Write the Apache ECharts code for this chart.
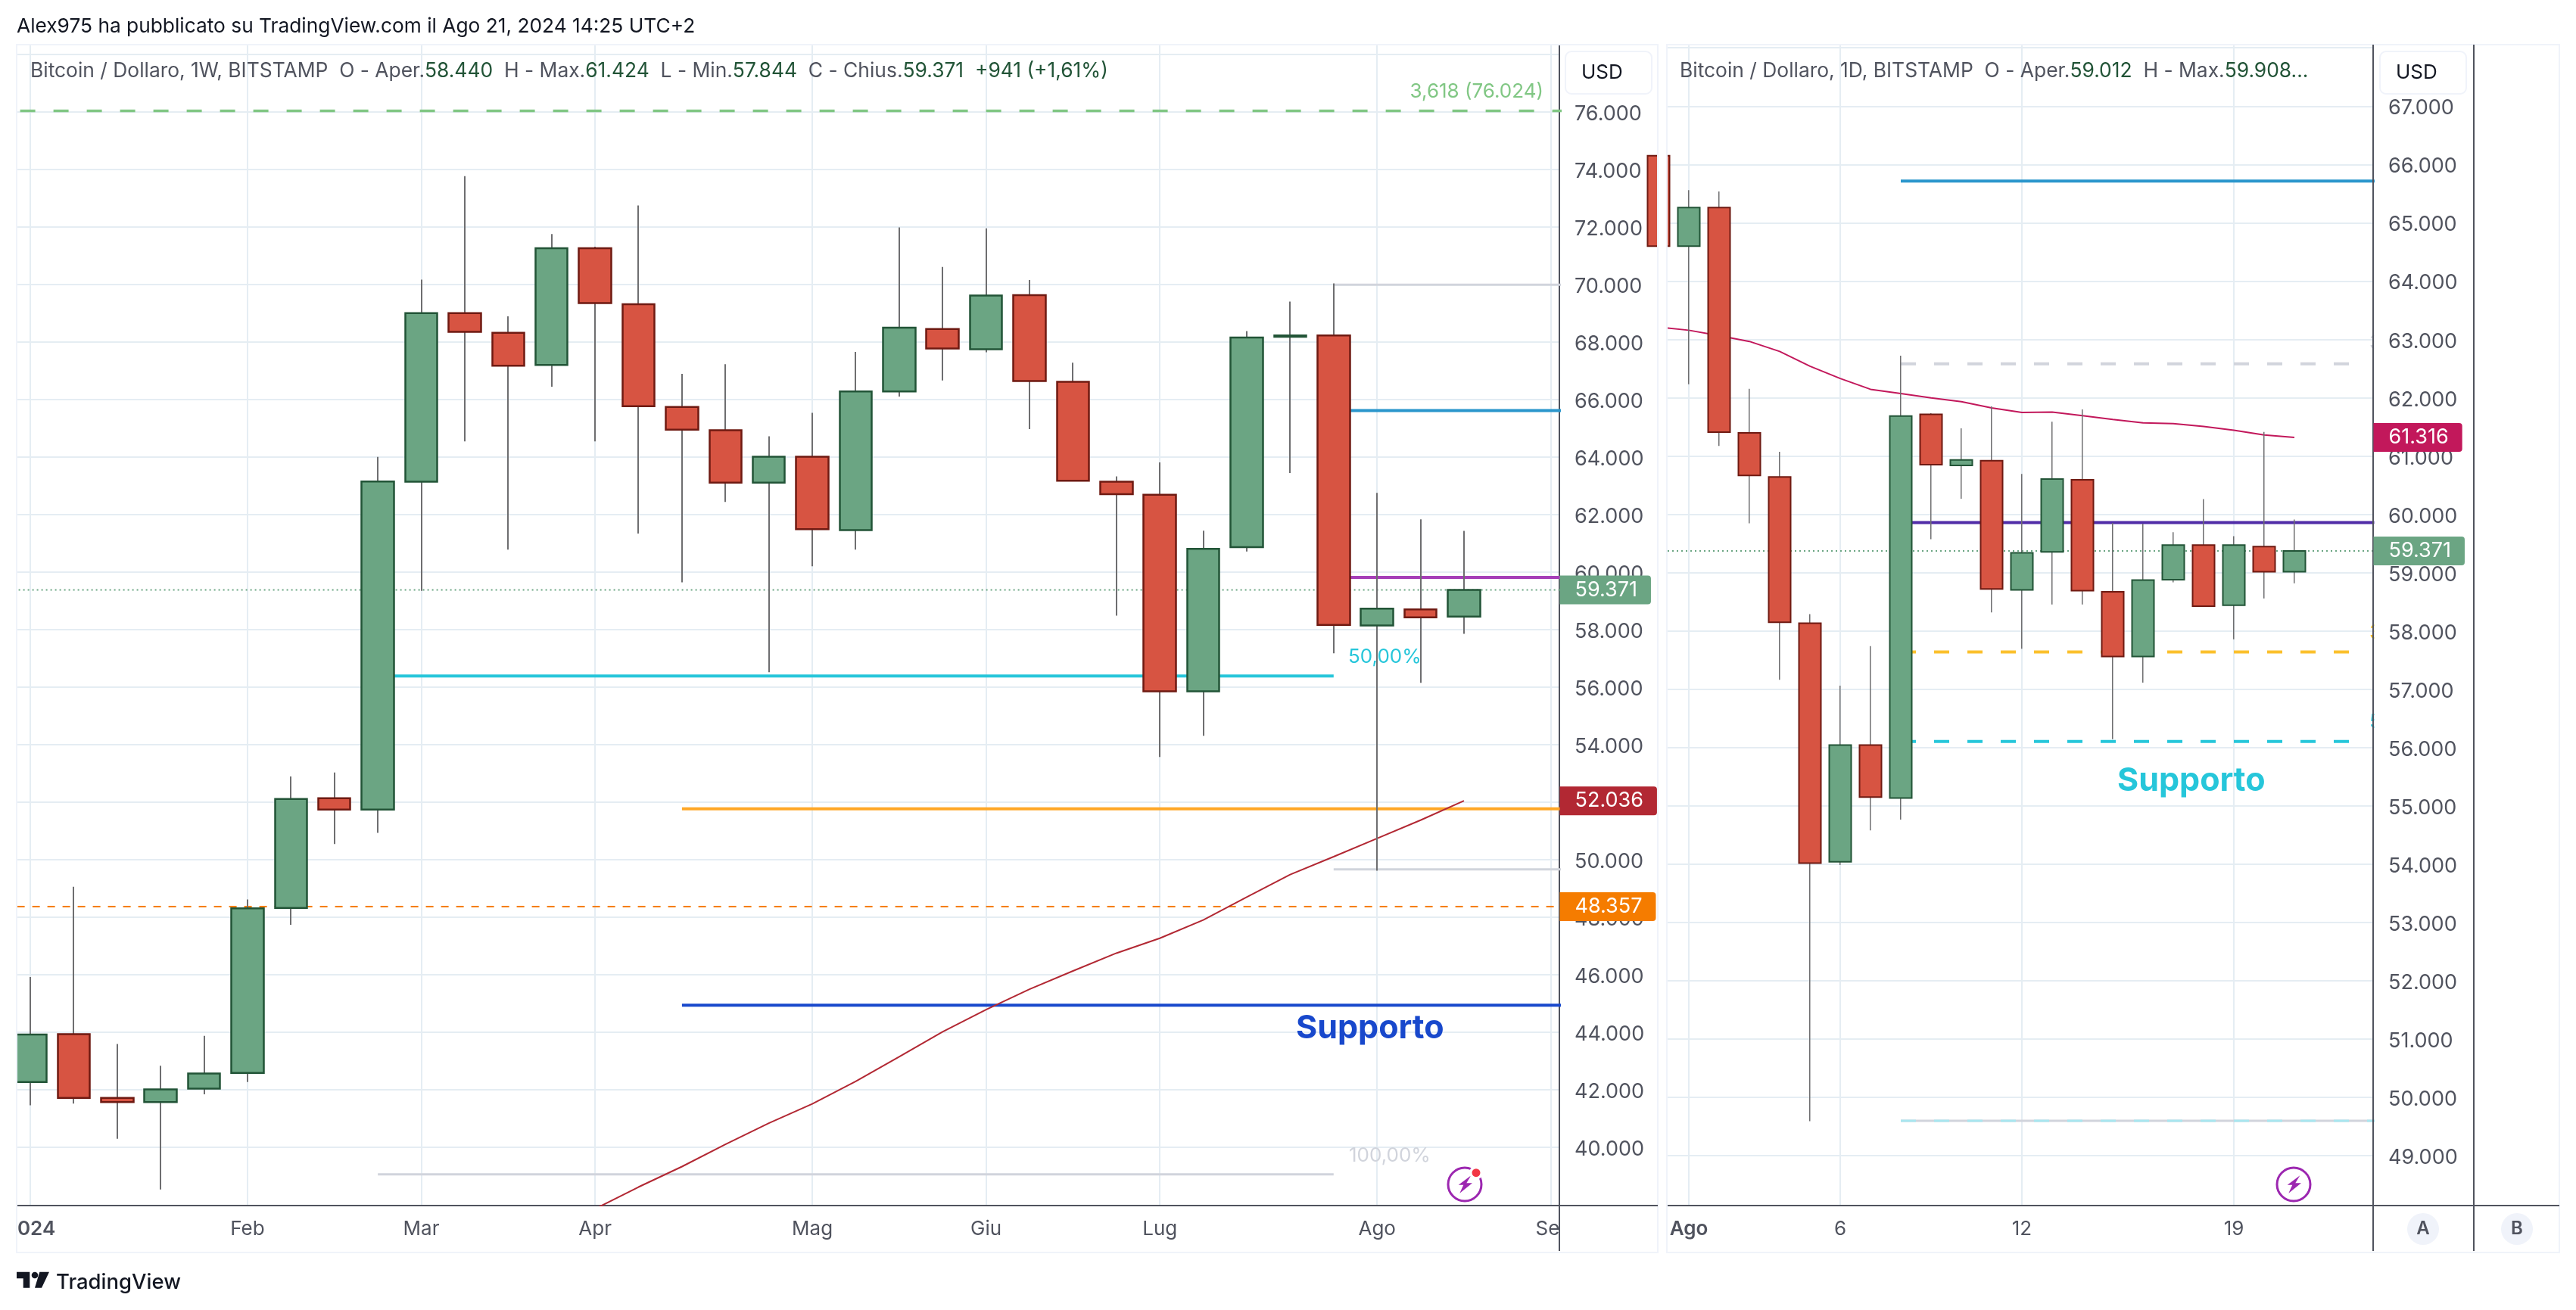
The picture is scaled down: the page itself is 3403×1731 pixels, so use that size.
<!DOCTYPE html>
<html>
<head>
<meta charset="utf-8">
<title>Bitcoin / Dollaro</title>
<style>
  html, body { margin: 0; padding: 0; background: #fff; }
  #chart { width: 3403px; height: 1731px; }
</style>
</head>
<body>
<div id="chart"></div>
<script src="https://cdn.jsdelivr.net/npm/echarts@6/dist/echarts.min.js"></script>
<script>
// weekly pane, one entry per candle
const weekOpen = [42255, 43924, 41706, 41559, 42025, 42576, 48311, 52123, 51730, 63130, 68993, 68308, 67192, 71253, 69302, 65728, 64923, 63100, 64000, 61448, 66271, 68443, 67735, 69620, 66603, 63134, 62681, 55842, 60857, 68170, 68217, 58132, 58693, 58440];
const weekClose = [43911, 41706, 41559, 42000, 42551, 48299, 52098, 51730, 63140, 68993, 68345, 67163, 71253, 69340, 65756, 64943, 63100, 64000, 61478, 66272, 68489, 67765, 69605, 66633, 63164, 62697, 55842, 60796, 68142, 68220, 58149, 58719, 58412, 59371];
const weekLow = [41445, 41510, 40284, 38520, 41828, 42257, 47723, 50530, 50922, 59333, 64530, 60773, 66433, 64530, 61327, 59635, 62425, 56504, 60190, 60773, 66090, 66649, 67629, 64959, 63164, 58474, 53561, 54298, 60706, 63436, 57167, 49604, 56140, 57844];
const weekHigh = [45911, 49047, 43581, 42821, 43863, 48605, 52882, 53017, 63996, 70155, 73758, 68880, 71741, 71300, 72735, 66882, 67220, 64710, 65527, 67644, 71973, 70600, 71943, 70148, 67267, 63315, 63804, 61430, 68368, 69394, 70027, 62742, 61822, 61424];
// moving average starts at candle 13
const weekMaStart = 13;
const weekMa = [37846, 38605, 39316, 40088, 40824, 41498, 42278, 43135, 44006, 44774, 45483, 46118, 46739, 47256, 47891, 48688, 49471, 50092, 50727, 51362, 52036];
const weekDateTicks = [0, 5, 9, 13, 18, 22, 26, 31, 35];
const weekDateLabels = ['2024', 'Feb', 'Mar', 'Apr', 'Mag', 'Giu', 'Lug', 'Ago', 'Set'];
const weekPriceTicks = [76000, 74000, 72000, 70000, 68000, 66000, 64000, 62000, 60000, 58000, 56000, 54000, 52000, 50000, 48000, 46000, 44000, 42000, 40000];

// daily pane, index 0 is 31 Jul, index 1 is 1 Ago
const dayOpen = [66150, 64600, 65260, 61394, 60638, 58131, 54037, 56042, 55132, 61712, 60837, 60917, 58703, 59353, 60592, 58670, 57560, 58876, 59472, 58440, 59446, 59012];
const dayClose = [64600, 65260, 61407, 60665, 58146, 54014, 56042, 55147, 61685, 60850, 60930, 58717, 59339, 60605, 58690, 57560, 58869, 59472, 58424, 59472, 59012, 59371];
const dayLow = [64600, 62230, 61170, 59843, 57160, 49590, 53983, 54577, 54762, 59572, 60267, 58316, 57692, 58451, 58451, 56142, 57113, 58830, 58424, 57853, 58557, 58816];
const dayHigh = [66150, 65560, 65535, 62150, 61070, 58285, 57060, 57738, 62719, 61732, 61473, 61850, 60691, 61586, 61798, 59850, 59836, 59691, 60260, 59624, 61413, 59908];
const dayMa = [63209, 63156, 63064, 62964, 62792, 62540, 62328, 62143, 62070, 61997, 61930, 61824, 61745, 61751, 61692, 61626, 61566, 61553, 61506, 61440, 61360, 61316];
const dayDateTicks = [1, 6, 12, 19];
const dayDateLabels = ['Ago', '6', '12', '19'];
const dayPriceTicks = [67000, 66000, 65000, 64000, 63000, 62000, 61000, 60000, 59000, 58000, 57000, 56000, 55000, 54000, 53000, 52000, 51000, 50000, 49000];

// price of each drawn level, with the candle it starts and ends at
const weekLevelPrices = [76024, 69980, 65608, 59800, 56373, 51755, 48357, 49650, 44929, 39048];
const weekLevelStart = [-1, 30, 30, 30, 8, 15, -1, 30, 15, 8];
const weekLevelEnd = [36, 36, 36, 36, 30, 36, 36, 36, 36, 30];
const dayLevelPrices = [65714, 62580, 59856, 57638, 56103, 49594, 49594];
const dayLevelStart = [8, 8, 8, 8, 8, 8, 8];
const dayLevelEnd = [24, 22.8, 24, 22.8, 22.8, 24, 24];
const lastPrice = 59371;

const weekX = { min: -0.3136, max: 35.196 };
const dayX = { min: 0.275, max: 23.6 };
const weekY = { min: 37961, max: 78329 };
const dayY = { min: 48141, max: 68055 };

const FONT = 'Inter, "Noto Sans", sans-serif';
const GRID = '#e5edf3';
const AXIS = '#50535e';
const TEXT = '#50535e';
const INK = '#131722';
const FRAME = '#f0f3fa';

const GREEN = '#6ba583';
const GREEN_EDGE = '#225437';
const RED = '#d75442';
const RED_EDGE = '#6f1a12';
const WICK = '#6e6e70';
const GRAY = '#d1d4dc';
const CYAN = '#26c6da';

const weekLevelStyles = [
  { color: '#81c784', width: 3.5, type: [20, 24] },
  { color: GRAY, width: 3 },
  { color: '#2a96cc', width: 4 },
  { color: '#a63fb8', width: 4 },
  { color: CYAN, width: 4 },
  { color: '#ffa726', width: 4 },
  { color: '#f57c00', width: 2, type: [10, 10] },
  { color: GRAY, width: 3 },
  { color: '#1848cc', width: 4 },
  { color: GRAY, width: 3 },
];
const dayLevelStyles = [
  { color: '#2a96cc', width: 4 },
  { color: GRAY, width: 4, type: [20, 24] },
  { color: '#512da8', width: 4 },
  { color: '#fbc02d', width: 4, type: [20, 24] },
  { color: CYAN, width: 4, type: [20, 24] },
  { color: GRAY, width: 3 },
  { color: '#a8e6ef', width: 3, type: [20, 24] },
];

function priceText(v) {
  return String(v).replace(/(\d{3})$/, '.$1');
}

function xAxis(index, range, ticks, labels, boldFirst) {
  return {
    type: 'value',
    gridIndex: index,
    min: range.min,
    max: range.max,
    axisLine: { onZero: false, lineStyle: { color: AXIS, width: 2 } },
    axisTick: { show: false, customValues: ticks },
    splitLine: { show: true, lineStyle: { color: GRID, width: 2 } },
    axisLabel: {
      customValues: ticks,
      hideOverlap: false,
      margin: 18,
      fontFamily: FONT,
      fontSize: 26,
      color: TEXT,
      formatter: (v) => {
        const i = ticks.indexOf(v);
        return i === 0 && boldFirst ? '{b|' + labels[i] + '}' : labels[i];
      },
      rich: { b: { fontFamily: FONT, fontSize: 26, fontWeight: 600, color: TEXT } },
    },
  };
}

function yAxis(index, range, ticks, gridExtra) {
  return {
    type: 'value',
    gridIndex: index,
    position: 'right',
    min: range.min,
    max: range.max,
    axisLine: { show: true, onZero: false, lineStyle: { color: AXIS, width: 2 } },
    axisTick: { show: false, customValues: [gridExtra].concat(ticks) },
    splitLine: { show: true, lineStyle: { color: GRID, width: 2 } },
    axisLabel: {
      customValues: ticks,
      hideOverlap: false,
      margin: 20,
      fontFamily: FONT,
      fontSize: 27,
      color: TEXT,
      formatter: (v) => '{p|' + priceText(v) + '}',
      // plain label padding is ignored here, the rich token nudges the text down
      rich: { p: { fontFamily: FONT, fontSize: 27, color: TEXT, padding: [6, 0, 0, 0] } },
    },
  };
}

// wicks go in a custom series, TradingView colours them apart from the body
// and candlestick strokes get blurred at widths above 1
function candles(index, open, close, low, high, bodyWidth, edge, wickWidth) {
  const wicks = low.map((l, i) => [i, l, high[i]]);
  const bodies = open.map((o, i) => [i, o, close[i], Math.min(o, close[i]), Math.max(o, close[i])]);
  return [
    {
      type: 'custom',
      xAxisIndex: index,
      yAxisIndex: index,
      clip: true,
      z: 3,
      silent: true,
      encode: { x: 0, y: [1, 2] },
      data: wicks,
      renderItem: (params, api) => {
        const bottom = api.coord([api.value(0), api.value(1)]);
        const top = api.coord([api.value(0), api.value(2)]);
        return {
          type: 'rect',
          shape: { x: Math.round(bottom[0] - wickWidth / 2), y: top[1], width: wickWidth, height: bottom[1] - top[1] },
          style: { fill: WICK },
        };
      },
    },
    {
      type: 'candlestick',
      xAxisIndex: index,
      yAxisIndex: index,
      barWidth: bodyWidth,
      clip: true,
      z: 4,
      silent: true,
      data: bodies,
      itemStyle: { color: GREEN, color0: RED, borderColor: GREEN_EDGE, borderColor0: RED_EDGE, borderWidth: edge },
    },
  ];
}

function flatLine(index, from, to, price, style, tag) {
  const s = {
    type: 'line',
    xAxisIndex: index,
    yAxisIndex: index,
    symbol: 'none',
    z: 2,
    silent: true,
    data: [[from, price], [to, price]],
    lineStyle: style,
  };
  return tag ? withTag(s, tag) : s;
}

// coloured price tag sitting on the price axis
function withTag(series, tag) {
  series.markPoint = {
    silent: true,
    animation: false,
    symbol: 'rect',
    symbolSize: 1,
    itemStyle: { color: 'transparent' },
    z: 20,
    data: [{
      coord: [tag.x, tag.price],
      label: {
        show: true,
        position: 'right',
        distance: 0,
        formatter: priceText(tag.price),
        fontFamily: FONT,
        fontSize: 27,
        lineHeight: 38,
        color: '#fff',
        backgroundColor: tag.color,
        borderRadius: [0, 4, 4, 0],
        padding: [0, 18, 0, 20],
      },
    }],
  };
  return series;
}

function maLine(index, start, values, color, tag) {
  return withTag({
    type: 'line',
    xAxisIndex: index,
    yAxisIndex: index,
    symbol: 'none',
    z: 2,
    silent: true,
    data: values.map((v, i) => [start + i, v]),
    lineStyle: { color: color, width: 2 },
  }, tag);
}

const series = [].concat(
  weekLevelPrices.map((p, i) => flatLine(0, weekLevelStart[i], weekLevelEnd[i], p, weekLevelStyles[i],
    p === 48357 ? { x: weekX.max, price: p, color: '#f57c00' } : null)),
  dayLevelPrices.map((p, i) => flatLine(1, dayLevelStart[i], dayLevelEnd[i], p, dayLevelStyles[i])),
  flatLine(0, -1, 36, lastPrice, { color: GREEN, width: 2, type: [2, 4] }, { x: weekX.max, price: lastPrice, color: GREEN }),
  flatLine(1, 0, 24, lastPrice, { color: GREEN, width: 2, type: [2, 4] }, { x: dayX.max, price: lastPrice, color: GREEN }),
  maLine(0, weekMaStart, weekMa, '#b22833', { x: weekX.max, price: weekMa[weekMa.length - 1], color: '#b22833' }),
  maLine(1, 0, dayMa, '#c2185b', { x: dayX.max, price: dayMa[dayMa.length - 1], color: '#c2185b' }),
  candles(0, weekOpen, weekClose, weekLow, weekHigh, 43, 2.5, 2),
  candles(1, dayOpen, dayClose, dayLow, dayHigh, 30, 2, 1.5)
);

function text(x, y, str, size, color, extra) {
  return {
    type: 'text',
    x: x,
    y: y,
    z: 10,
    style: Object.assign({
      text: str,
      fontFamily: FONT,
      fontSize: size,
      fill: color,
      textVerticalAlign: 'middle',
    }, extra || {}),
  };
}

function paneTitle(x, y, str) {
  return text(x, y, str, 26.4, TEXT, {
    rich: {
      v: { fontFamily: FONT, fontSize: 26.4, fill: GREEN_EDGE, color: GREEN_EDGE },
    },
  });
}

function line(x1, y1, x2, y2, color, width) {
  return { type: 'line', z: 10, shape: { x1, y1, x2, y2 }, style: { stroke: color, lineWidth: width } };
}

function whiteBox(x, y, width, height) {
  return { type: 'rect', z: 10, shape: { x, y, width, height }, style: { fill: '#fff' } };
}

function usdBox(x, y) {
  return [
    { type: 'rect', z: 10, shape: { x, y, width: 114, height: 56, r: 8 }, style: { fill: '#fff', stroke: FRAME, lineWidth: 2 } },
    text(x + 21, y + 28, 'USD', 26, INK),
  ];
}

function boltIcon(cx, cy, withDot) {
  const els = [
    { type: 'circle', z: 10, shape: { cx, cy, r: 22 }, style: { fill: '#fff', stroke: '#9c27b0', lineWidth: 3 } },
    {
      type: 'polygon',
      z: 10,
      shape: { points: [[cx + 8.3, cy - 11.7], [cx - 8.3, cy + 0.7], [cx - 1.7, cy + 0.7], [cx - 6.7, cy + 11.7], [cx + 10, cy - 1.7], [cx + 2.3, cy - 1.7]] },
      style: { fill: '#9c27b0' },
    },
  ];
  if (withDot) {
    els.push({ type: 'circle', z: 10, shape: { cx: cx + 15, cy: cy - 15.3, r: 9 }, style: { fill: '#fff' } });
    els.push({ type: 'circle', z: 10, shape: { cx: cx + 15, cy: cy - 15.3, r: 5.5 }, style: { fill: '#f23645' } });
  }
  return els;
}

function paneBadge(cx, cy, str) {
  return [
    { type: 'circle', z: 10, shape: { cx, cy, r: 21 }, style: { fill: FRAME } },
    text(cx, cy, str, 24, TEXT, { textAlign: 'center', fontWeight: 600 }),
  ];
}

const graphics = [].concat(
  // labels cut off by the price axis
  text(3130, 453, '3', 26, GRAY),
  text(3130, 836, '3', 26, '#fbc02d'),
  text(3130, 954, '5', 26, CYAN),
  whiteBox(3136.5, 430, 17, 540),
  // candles and date labels that run past the pane edges
  whiteBox(0, 59, 21, 1596),
  whiteBox(2191, 59, 10, 1596),
  whiteBox(2061, 1595, 128, 58),
  // frame of the two panes
  { type: 'rect', z: 10, shape: { x: 22, y: 59, width: 2168, height: 1596 }, style: { fill: 'none', stroke: FRAME, lineWidth: 2 } },
  { type: 'rect', z: 10, shape: { x: 2202, y: 59, width: 1179, height: 1596 }, style: { fill: 'none', stroke: FRAME, lineWidth: 2 } },
  line(2060, 1593, 2060, 1653, AXIS, 2),
  line(2060, 1593, 2190, 1593, AXIS, 2),
  line(3135, 1593, 3135, 1653, AXIS, 2),
  line(3135, 1593, 3381, 1593, AXIS, 2),
  line(3268, 59, 3268, 1653, AXIS, 2),
  line(3135, 59, 3135, 1593, AXIS, 2),
  // header
  text(22, 35, 'Alex975 ha pubblicato su TradingView.com il Ago 21, 2024 14:25 UTC+2', 26.3, INK),
  paneTitle(40, 94, 'Bitcoin / Dollaro, 1W, BITSTAMP  O - Aper.{v|58.440}  H - Max.{v|61.424}  L - Min.{v|57.844}  C - Chius.{v|59.371}  {v|+941 (+1,61%)}'),
  paneTitle(2219, 94, 'Bitcoin / Dollaro, 1D, BITSTAMP  O - Aper.{v|59.012}  H - Max.{v|59.908...}'),
  usdBox(2068, 68),
  usdBox(3144, 68),
  // drawing labels
  text(2039, 121, '3,618 (76.024)', 26, '#81c784', { textAlign: 'right' }),
  text(1781, 868, '50,00%', 26, CYAN),
  text(1782, 1527, '100,00%', 26, GRAY),
  text(1712, 1359, 'Supporto', 43, '#1848cc', { fontWeight: 700 }),
  text(2797, 1032, 'Supporto', 43, CYAN, { fontWeight: 700 }),
  boltIcon(1935, 1565, true),
  boltIcon(3030, 1565, false),
  paneBadge(3201, 1624, 'A'),
  paneBadge(3325, 1624, 'B'),
  // logo
  { type: 'polygon', z: 10, shape: { points: [[22, 1680.7], [39.3, 1680.7], [39.3, 1701.7], [30.7, 1701.7], [30.7, 1689.3], [22, 1689.3]] }, style: { fill: INK } },
  { type: 'circle', z: 10, shape: { cx: 46, cy: 1685, r: 4.3 }, style: { fill: INK } },
  { type: 'polygon', z: 10, shape: { points: [[52.3, 1680.7], [65, 1680.7], [55, 1701.7], [46, 1701.7]] }, style: { fill: INK } },
  text(74, 1695, 'TradingView', 27.5, INK, { fontWeight: 500 })
);

const chart = echarts.init(document.getElementById('chart'));
chart.setOption({
  animation: false,
  backgroundColor: '#fff',
  grid: [
    { left: 22, top: 59, width: 2038, height: 1534 },
    { left: 2202, top: 59, width: 933, height: 1534 },
  ],
  xAxis: [
    xAxis(0, weekX, weekDateTicks, weekDateLabels, true),
    xAxis(1, dayX, dayDateTicks, dayDateLabels, true),
  ],
  yAxis: [
    yAxis(0, weekY, weekPriceTicks, 78000),
    yAxis(1, dayY, dayPriceTicks, 68000),
  ],
  series: series,
  graphic: { elements: graphics },
});
</script>
</body>
</html>
